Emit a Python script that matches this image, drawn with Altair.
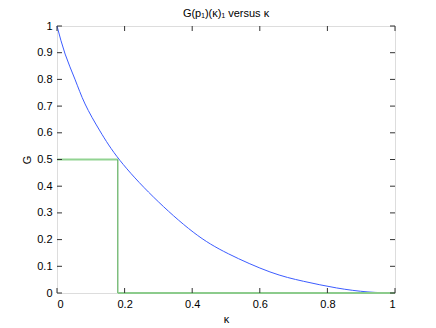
import altair as alt
import pandas as pd

# Blue curve
kappa = [0, 0.024, 0.053, 0.083, 0.127, 0.186, 0.285, 0.403, 0.507, 0.630, 0.729, 0.827, 0.92, 1.0]
g_vals = [1.0, 0.895, 0.801, 0.708, 0.607, 0.497, 0.36, 0.228, 0.147, 0.079, 0.044, 0.019, 0.004, 0.0]

# Green guide segments
seg_x = [0.0, 0.18, 0.18]
seg_x2 = [0.18, 0.18, 1.0]
seg_y = [0.5, 0.0, 0.0]
seg_y2 = [0.5, 0.5, 0.0]
seg_color = ["#92d392", "#3f9f3f", "#8ccb8c"]
seg_width = [2, 1, 2]

x_ticks = [0, 0.2, 0.4, 0.6, 0.8, 1.0]
y_ticks = [0, 0.1, 0.2, 0.3, 0.4, 0.5, 0.6, 0.7, 0.8, 0.9, 1.0]

W, H = 338, 267
FONT = "Liberation Sans"

curve_df = pd.DataFrame({"k": kappa, "G": g_vals})
seg_df = pd.DataFrame({"x": seg_x, "x2": seg_x2, "y": seg_y, "y2": seg_y2,
                       "c": seg_color, "w": seg_width})
xt_df = pd.DataFrame({"t": x_ticks})
yt_df = pd.DataFrame({"t": y_ticks})

xscale = alt.Scale(domain=[0, 1], nice=False, zero=False)
yscale = alt.Scale(domain=[0, 1], nice=False, zero=False)

label_expr = "datum.value == 0 ? '0' : datum.value == 1 ? '1' : format(datum.value, '.1f')"

def fmt_axis(title, values, orient):
    return alt.Axis(title=title, values=values, labelExpr=label_expr, ticks=False,
                    domain=False, grid=False, labelFont=FONT, labelFontSize=11,
                    labelColor="#000", titleFont=FONT, titleFontSize=11,
                    titleFontWeight="normal", titleColor="#000", labelOverlap=False,
                    labelPadding=5, titlePadding=4, orient=orient)

XA = fmt_axis("κ", x_ticks, "bottom")
YA = fmt_axis("G", y_ticks, "left")

curve = alt.Chart(curve_df).mark_line(color="#3c5cff", strokeWidth=1, interpolate="natural").encode(
    x=alt.X("k:Q", scale=xscale, axis=XA),
    y=alt.Y("G:Q", scale=yscale, axis=YA),
)

segs = alt.Chart(seg_df).mark_rule().encode(
    x=alt.X("x:Q", scale=xscale, axis=XA), x2="x2:Q",
    y=alt.Y("y:Q", scale=yscale, axis=YA), y2="y2:Q",
    color=alt.Color("c:N", scale=None),
    strokeWidth=alt.StrokeWidth("w:Q", scale=None),
)

tick_color = "#333"
bt = alt.Chart(xt_df).mark_rule(color=tick_color).encode(
    x=alt.X("t:Q", scale=xscale, axis=XA), y=alt.value(H), y2=alt.value(H - 5))
tt = alt.Chart(xt_df).mark_rule(color=tick_color).encode(
    x=alt.X("t:Q", scale=xscale, axis=XA), y=alt.value(0), y2=alt.value(5))
lt = alt.Chart(yt_df).mark_rule(color=tick_color).encode(
    y=alt.Y("t:Q", scale=yscale, axis=YA), x=alt.value(0), x2=alt.value(5))
rt = alt.Chart(yt_df).mark_rule(color=tick_color).encode(
    y=alt.Y("t:Q", scale=yscale, axis=YA), x=alt.value(W), x2=alt.value(W - 5))

chart = alt.layer(curve, segs, bt, tt, lt, rt).properties(
    width=W, height=H,
    title=alt.Title("G(p₁)(κ)₁ versus κ", font=FONT, fontSize=11, fontWeight="normal",
                    color="#000", offset=1),
    autosize=alt.AutoSizeParams(type="none"),
    padding={"left": 49, "top": 18, "right": 30, "bottom": 30},
).configure_view(stroke="#222", strokeWidth=1).configure(background="white")

chart.save("out.html", embed_options={"renderer": "svg", "actions": False})
